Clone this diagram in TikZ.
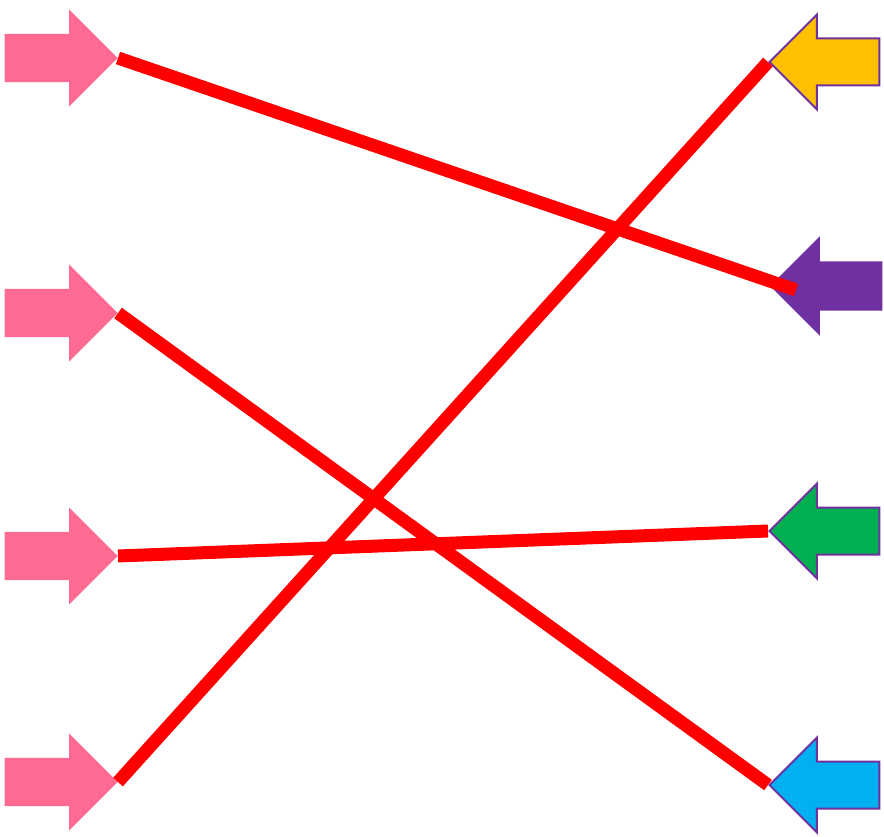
\documentclass[tikz,border=0pt]{standalone}
\usepackage{tikz}
\usetikzlibrary{shapes.arrows}
\usepackage{xcolor}
\definecolor{pinkarr}{HTML}{FF6A93}
\definecolor{goldarr}{HTML}{FFC000}
\definecolor{purparr}{HTML}{7030A0}
\definecolor{greenarr}{HTML}{00B050}
\definecolor{bluearr}{HTML}{00B0F0}
\tikzset{
  inarrow/.style={shape=single arrow, fill=pinkarr, inner sep=0pt,
    text height=48pt, text depth=0pt,
    minimum height=113pt, minimum width=97pt, single arrow head extend=24.5pt,
    anchor=tip},
  outarrow/.style={shape=single arrow, draw=purparr, line width=2pt, inner sep=0pt,
    text height=45pt, text depth=0pt,
    minimum height=110pt, minimum width=93pt, single arrow head extend=24pt,
    shape border rotate=180, anchor=tip},
  wire/.style={red, line width=13pt}
}
\begin{document}
\begin{tikzpicture}[x=1pt, y=-1pt]
					\useasboundingbox (0,0) rectangle (884,837);
					% Paths, nodes and wires:
					\node[inarrow](L1) at (118, 58){};
					\node[inarrow](L2) at (118, 313){};
					\node[inarrow](L3) at (118, 556){};
					\node[inarrow](L4) at (118, 782){};
					\node[outarrow, fill=goldarr](R1) at (768, 62){};
					\node[outarrow, fill=purparr](R2) at (770, 286){};
					\node[outarrow, fill=greenarr](R3) at (768, 531){};
					\node[outarrow, fill=bluearr](R4) at (768, 785){};
					\coordinate (E2) at (796, 290);
					\draw[wire] (L1.tip) -- (E2);
					\draw[wire] (L2.tip) -- (R4.tip);
					\draw[wire] (L3.tip) -- (R3.tip);
					\draw[wire] (L4.tip) -- (R1.tip);
				\end{tikzpicture}
\end{document}
